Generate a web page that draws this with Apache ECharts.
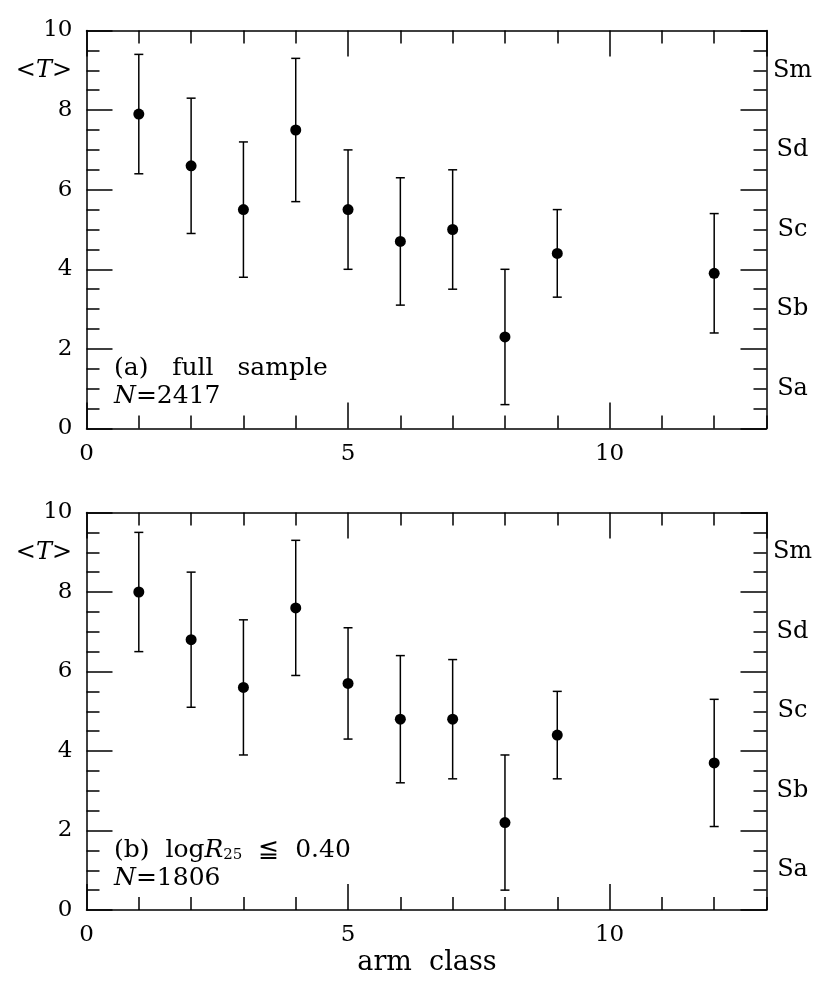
<!DOCTYPE html>
<html>
<head>
<meta charset="utf-8">
<script src="https://cdn.jsdelivr.net/npm/echarts@6/dist/echarts.min.js"></script>
<style>html,body{margin:0;padding:0;background:#fff}#c{width:830px;height:989px}</style>
</head>
<body>
<div id="c"></div>
<script>
// ---- data ----
const armClass = [1, 2, 3, 4, 5, 6, 7, 8, 9, 12];
const meanA = [7.9, 6.6, 5.5, 7.5, 5.5, 4.7, 5.0, 2.3, 4.4, 3.9];
const lowA  = [6.4, 4.9, 3.8, 5.7, 4.0, 3.1, 3.5, 0.6, 3.3, 2.4];
const highA = [9.4, 8.3, 7.2, 9.3, 7.0, 6.3, 6.5, 4.0, 5.5, 5.4];
const meanB = [8.0, 6.8, 5.6, 7.6, 5.7, 4.8, 4.8, 2.2, 4.4, 3.7];
const lowB  = [6.5, 5.1, 3.9, 5.9, 4.3, 3.2, 3.3, 0.5, 3.3, 2.1];
const highB = [9.5, 8.5, 7.3, 9.3, 7.1, 6.4, 6.3, 3.9, 5.5, 5.3];
const xTickLabels = ['0', '5', '10'];
const typeLabels = ['Sa', 'Sb', 'Sc', 'Sd', 'Sm'];
const typeValues = [1, 3, 5, 7, 9];

const FONT = 'DejaVu Serif';
const BLACK = '#000';
const LW = 1.5;

const grids = [
  { left: 86.5, top: 30.5, width: 680, height: 398 },
  { left: 86.5, top: 512.5, width: 680, height: 397.5 }
];

function xAxesFor(g) {
  const base = { gridIndex: g, type: 'value', min: 0, max: 13, splitLine: { show: false } };
  return [
    Object.assign({}, base, {
      position: 'bottom', interval: 5,
      axisLine: { show: true, onZero: false, lineStyle: { color: BLACK, width: LW } },
      axisTick: { show: true, inside: true, length: 26, lineStyle: { color: BLACK, width: LW } },
      axisLabel: {
        show: true, margin: 14, fontFamily: FONT, fontSize: 23, color: BLACK,
        showMaxLabel: false,
        formatter: v => (xTickLabels.indexOf(String(v)) >= 0 ? String(v) : '')
      }
    }),
    Object.assign({}, base, {
      position: 'bottom', interval: 1,
      axisLine: { show: false, onZero: false },
      axisTick: { show: true, inside: true, length: 13, lineStyle: { color: BLACK, width: LW } },
      axisLabel: { show: false }
    }),
    Object.assign({}, base, {
      position: 'top', interval: 5,
      axisLine: { show: true, onZero: false, lineStyle: { color: BLACK, width: LW } },
      axisTick: { show: true, inside: true, length: 26, lineStyle: { color: BLACK, width: LW } },
      axisLabel: { show: false }
    }),
    Object.assign({}, base, {
      position: 'top', interval: 1,
      axisLine: { show: false, onZero: false },
      axisTick: { show: true, inside: true, length: 13, lineStyle: { color: BLACK, width: LW } },
      axisLabel: { show: false }
    })
  ];
}

function yAxesFor(g) {
  const base = { gridIndex: g, type: 'value', min: 0, max: 10, splitLine: { show: false }, minorSplitLine: { show: false } };
  return [
    Object.assign({}, base, {
      position: 'left', interval: 2,
      axisLine: { show: true, onZero: false, lineStyle: { color: BLACK, width: LW } },
      axisTick: { show: true, inside: true, length: 26, lineStyle: { color: BLACK, width: LW } },
      minorTick: { show: true, splitNumber: 4, length: 13, lineStyle: { color: BLACK, width: LW } },
      axisLabel: { show: true, margin: 14, fontFamily: FONT, fontSize: 23, color: BLACK }
    }),
    Object.assign({}, base, {
      position: 'right', interval: 2,
      axisLine: { show: true, onZero: false, lineStyle: { color: BLACK, width: LW } },
      axisTick: { show: true, inside: true, length: 26, lineStyle: { color: BLACK, width: LW } },
      minorTick: { show: true, splitNumber: 4, length: 13, lineStyle: { color: BLACK, width: LW } },
      axisLabel: { show: false }
    }),
    Object.assign({}, base, {
      position: 'right', interval: 1,
      axisLine: { show: false, onZero: false },
      axisTick: { show: false },
      axisLabel: {
        show: true, margin: 26, align: 'center', fontFamily: FONT, fontSize: 24, color: BLACK,
        formatter: v => { const i = typeValues.indexOf(v); return i >= 0 ? typeLabels[i] : ''; }
      }
    })
  ];
}

function errorSeries(g, lows, highs) {
  return {
    type: 'custom', xAxisIndex: g * 4, yAxisIndex: g * 3,
    data: armClass.map((x, i) => [x, lows[i], highs[i]]),
    encode: { x: 0, y: [1, 2] },
    silent: true,
    renderItem: function (params, api) {
      const x = api.value(0);
      const lo = api.coord([x, api.value(1)]);
      const hi = api.coord([x, api.value(2)]);
      const w = 4.5;
      const st = { stroke: BLACK, lineWidth: 1.5 };
      return {
        type: 'group',
        children: [
          { type: 'line', shape: { x1: lo[0], y1: lo[1], x2: hi[0], y2: hi[1] }, style: st },
          { type: 'line', shape: { x1: lo[0] - w, y1: lo[1], x2: lo[0] + w, y2: lo[1] }, style: st },
          { type: 'line', shape: { x1: hi[0] - w, y1: hi[1], x2: hi[0] + w, y2: hi[1] }, style: st }
        ]
      };
    }
  };
}

function dotSeries(g, means) {
  return {
    type: 'scatter', xAxisIndex: g * 4, yAxisIndex: g * 3,
    data: armClass.map((x, i) => [x, means[i]]),
    symbol: 'circle', symbolSize: 11,
    itemStyle: { color: BLACK, opacity: 1 },
    emphasis: { disabled: true },
    silent: true, z: 5
  };
}

function txt(x, y, text, size, rich, align) {
  return {
    type: 'text', x: x, y: y, silent: true,
    style: {
      text: text, fontFamily: FONT, fontSize: size, fill: BLACK,
      align: align || 'left', verticalAlign: 'middle',
      textAlign: align || 'left', textVerticalAlign: 'middle',
      rich: rich || {}
    }
  };
}

const richIt = (size) => ({
  i: { fontFamily: FONT, fontSize: size, fontStyle: 'italic', fill: BLACK, color: BLACK },
  s: { fontFamily: FONT, fontSize: Math.round(size * 0.6), fill: BLACK, color: BLACK, verticalAlign: 'bottom' }
});

const option = {
  animation: false,
  backgroundColor: '#fff',
  grid: grids,
  xAxis: [].concat(xAxesFor(0), xAxesFor(1)),
  yAxis: [].concat(yAxesFor(0), yAxesFor(1)),
  series: [
    errorSeries(0, lowA, highA), dotSeries(0, meanA),
    errorSeries(1, lowB, highB), dotSeries(1, meanB)
  ],
  graphic: [
    txt(72, 70.5, '<{i|T}>', 24, richIt(24), 'right'),
    txt(72, 552.5, '<{i|T}>', 24, richIt(24), 'right'),
    txt(114, 368, '(a)   full   sample', 25),
    txt(114, 396, '{i|N}=2417', 25, richIt(25)),
    txt(114, 850, '(b)  log{i|R}{s|25}  ≦  0.40', 25, richIt(25)),
    txt(114, 878, '{i|N}=1806', 25, richIt(25)),
    txt(427, 963, 'arm  class', 27, null, 'center')
  ]
};

const chart = echarts.init(document.getElementById('c'), null, { renderer: 'canvas' });
chart.setOption(option);
</script>
</body>
</html>
